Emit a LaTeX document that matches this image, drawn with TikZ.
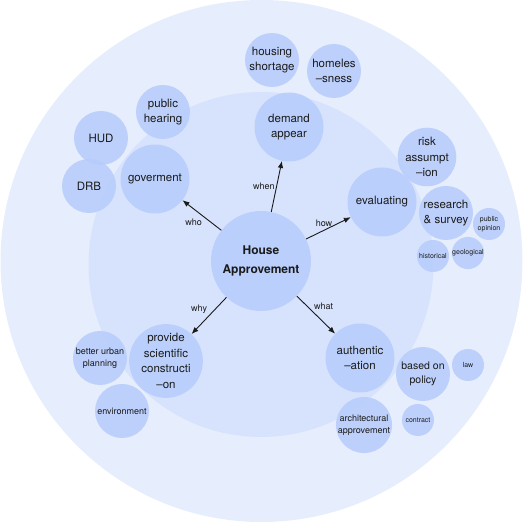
\documentclass[tikz,border=0pt]{standalone}
\usepackage{fontspec}
\setmainfont{TeX Gyre Heros}
\usepackage{tikz}
\usetikzlibrary{arrows.meta}
\definecolor{outerFill}{HTML}{E6EDFD}
\definecolor{innerFill}{HTML}{D7E3FD}
\definecolor{bubbleC}  {HTML}{B6CCFB}
\definecolor{inkC}     {HTML}{1A1A1A}
\tikzset{
  >={Latex[length=7pt,width=5.5pt]},
  bubble/.style={circle,fill=bubbleC,fill opacity=0.85,text opacity=1,
                 text=inkC,inner sep=0pt,align=center},
  bubbleMain/.style={bubble,minimum size=100pt,
                     font=\fontsize{12}{19}\selectfont\bfseries},
  bubbleBig/.style={bubble,minimum size=69pt,
                    font=\fontsize{11.5}{15.5}\selectfont},
  bubbleMid/.style={bubble,minimum size=54pt,
                    font=\fontsize{11.5}{15.5}\selectfont},
  bubbleSmall/.style={bubbleMid,font=\fontsize{9}{12.5}\selectfont},
  bubbleTiny/.style={bubble,minimum size=32pt,
                     font=\fontsize{7}{9.5}\selectfont},
  askFlow/.style={->,line width=0.9pt,inkC},
  askLabel/.style={font=\fontsize{9}{11}\selectfont,text=inkC,inner sep=1.5pt},
}
\begin{document}
\begin{tikzpicture}[x=1pt,y=1pt]
\useasboundingbox (0,0) rectangle (523,522);

% Two background rings.
\fill[outerFill] (261.5,261) circle[radius=261pt];
\fill[innerFill] (261,257.5) circle[radius=172.5pt];

% Hub and the five questions.
\node[bubbleMain] (house)   at (261,261) {House\\Approvement};
\node[bubbleBig]  (demand)  at (289,395) {demand\\appear};
\node[bubbleBig]  (gov)     at (155,343) {goverment};
\node[bubbleBig]  (eval)    at (382,320) {evaluating};
\node[bubbleBig]  (auth)    at (360,164) {authentic\\--ation};
\node[bubbleBig]  (provide) at (166,161) {provide\\scientific\\constructi\\--on};

% when
\node[bubbleMid] (shortage) at (272,462) {housing\\shortage};
\node[bubbleMid] (homeless) at (334,451) {homeles\\--sness};

% who
\node[bubbleMid] (hearing) at (163,410) {public\\hearing};
\node[bubbleMid] (hud)     at (101,384) {HUD};
\node[bubbleMid] (drb)     at (89,336)  {DRB};

% how
\node[bubbleMid]  (risk)     at (427,365) {risk\\assumpt\\--ion};
\node[bubbleMid]  (research) at (446,309) {research\\\& survey};
\node[bubbleTiny] (opinion)  at (489,298) {public\\opinion};
\node[bubbleTiny] (histo)    at (433,266) {historical};
\node[bubbleTiny] (geo)      at (468,269) {geological};

% what
\node[bubbleMid,font=\fontsize{10.5}{14.5}\selectfont]
      (policy) at (423,148) {based on\\policy};
\node[bubbleTiny]  (law)      at (468,157) {law};
\node[bubbleSmall] (arch)     at (364,97)  {architectural\\approvement};
\node[bubbleTiny]  (contract) at (418,102) {contract};

% why
\node[bubbleSmall] (urban) at (100,164) {better urban\\planning};
\node[bubbleSmall] (env)   at (122,111) {environment};

% Question arrows out of the hub.
\draw[askFlow] (house) -- node[askLabel,pos=0.45,below left] {who} (gov);
\draw[askFlow] (house) -- node[askLabel,pos=0.5,left] {when} (demand);
\draw[askFlow] (house) -- node[askLabel,pos=0.4,above,yshift=2pt] {how} (eval);
\draw[askFlow] (house) -- node[askLabel,pos=0.4,above right] {what} (auth);
\draw[askFlow] (house) -- node[askLabel,pos=0.5,above left] {why} (provide);

\end{tikzpicture}
\end{document}
